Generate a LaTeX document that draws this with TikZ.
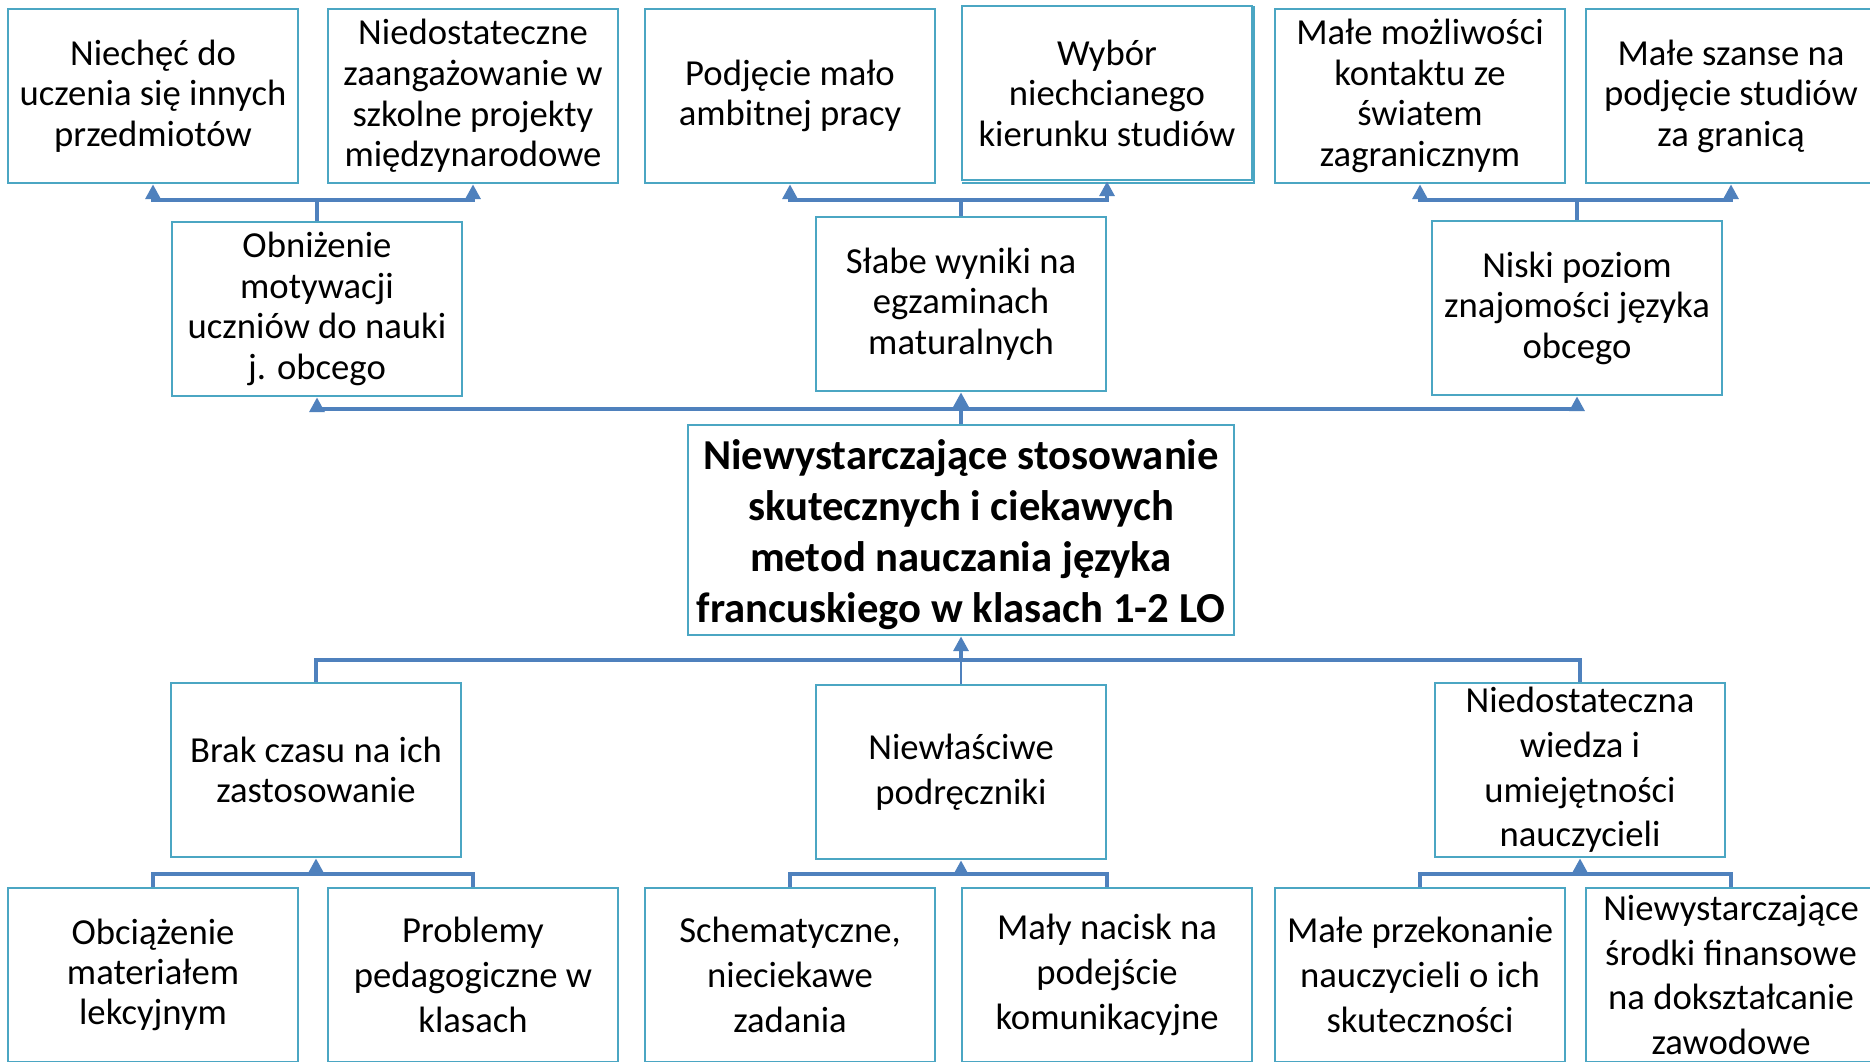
\documentclass[tikz,border=0pt]{standalone}
\usepackage{fontspec}
\setmainfont{Carlito}
\usetikzlibrary{arrows.meta,calc}
\definecolor{boxc}{RGB}{75,166,195}
\definecolor{linec}{RGB}{79,129,189}
\begin{document}
\begin{tikzpicture}[x=0.75pt,y=-0.75pt,
  box/.style={draw=boxc, line width=1.5pt, fill=white, minimum width=217.5pt,
    minimum height=131pt, align=center, inner sep=0pt,
    font=\fontsize{27.5}{30.4}\selectfont},
  loose/.style={font=\fontsize{27.5}{33.5}\selectfont},
  tight/.style={font=\fontsize{27.5}{30}\selectfont},
  core/.style={box, minimum width=409.5pt, minimum height=158pt},
  coretext/.style={align=center, inner sep=0pt,
    font=\bfseries\fontsize{32}{38.3}\selectfont},
  conn/.style={draw=linec, line width=3.4pt},
  thinconn/.style={draw=linec, line width=1.5pt},
  tip/.style={-{Triangle[length=11pt,width=11pt]}}
]
\clip (0,0) rectangle (1870,1061);
\fill[white] (0,0) rectangle (1870,1061);

% effects (top row)
\node[box] (t1) at (153,96) {Niechęć do\\uczenia się innych\\przedmiotów};
\node[box] (t2) at (473,96) {Niedostateczne\\zaangażowanie w\\szkolne projekty\\międzynarodowe};
\node[box] (t3) at (790,96) {Podjęcie mało\\ambitnej pracy};
\node[box] (t4) at (1107,93) {Wybór\\niechcianego\\kierunku studiów};
\node[box] (t5) at (1420,96) {Małe możliwości\\kontaktu ze\\światem\\zagranicznym};
\node[box] (t6) at (1731,96) {Małe szanse na\\podjęcie studiów\\za granicą};
\draw[boxc, line width=1.5pt]
  ([xshift=1.1pt,yshift=-1.1pt]t4.south west) -- ([xshift=1.1pt,yshift=-1.1pt]t4.south east)
  -- ([xshift=1.1pt,yshift=-1.1pt]t4.north east);

% direct effects
\node[box] (m1) at (317,309) {Obniżenie\\motywacji\\uczniów do nauki\\j. obcego};
\node[box] (m2) at (961,304) {Słabe wyniki na\\egzaminach\\maturalnych};
\node[box] (m3) at (1577,308) {Niski poziom\\znajomości języka\\obcego};

% core problem: frame and its bold text
\node[core] (c) at (961,530) {};
\node[coretext] (ctxt) at ($(c.center)+(0,5)$) {Niewystarczające stosowanie\\skutecznych i ciekawych\\metod nauczania języka\\francuskiego w klasach 1-2 LO};

% direct causes
\node[box,tight] (b1) at (316,770) {Brak czasu na ich\\zastosowanie};
\node[box,loose] (b2) at (961,772) {Niewłaściwe\\podręczniki};
\node[box,loose] (b3) at (1580,770) {Niedostateczna\\wiedza i\\umiejętności\\nauczycieli};

% root causes (bottom row)
\node[box,tight] (d1) at (153,975) {Obciążenie\\materiałem\\lekcyjnym};
\node[box,loose] (d2) at (473,975) {Problemy\\pedagogiczne w\\klasach};
\node[box,loose] (d3) at (790,975) {Schematyczne,\\nieciekawe\\zadania};
\node[box,loose] (d4) at (1107,975) {Mały nacisk na\\podejście\\komunikacyjne};
\node[box,loose] (d5) at (1420,975) {Małe przekonanie\\nauczycieli o ich\\skuteczności};
\node[box,loose] (d6) at (1731,975) {Niewystarczające\\środki finansowe\\na dokształcanie\\zawodowe};

% upper connectors
\coordinate (j1) at (m1.north |- 0,200);
\coordinate (j2) at (m2.north |- 0,200);
\coordinate (j3) at (m3.north |- 0,200);
\draw[conn,tip] (m1.north) -- (j1) -| (t1.south);
\draw[conn,tip] (j1) -| (t2.south);
\draw[conn,tip] (m2.north) -- (j2) -| (t3.south);
\draw[conn,tip] (j2) -| (t4.south);
\draw[conn,tip] (m3.north) -- (j3) -| (t5.south);
\draw[conn,tip] (j3) -| (t6.south);

\coordinate (jt) at (c.north |- 0,409);
\draw[conn,tip] (jt) -| (m1.south);
\draw[conn,tip] (jt) -| (m3.south);
\draw[conn,tip] (c.north) -- (m2.south);

% lower connectors
\coordinate (jb) at (c.south |- 0,660);
\draw[conn] (b1.north) |- (jb) -| (b3.north);
\draw[thinconn] (b2.north) -- (jb);
\draw[conn,tip] (jb) -- (c.south);

\coordinate (k1) at (b1.south |- 0,874);
\coordinate (k2) at (b2.south |- 0,874);
\coordinate (k3) at (b3.south |- 0,874);
\draw[conn] (d1.north) |- (k1) -| (d2.north);
\draw[conn,tip] (k1) -- (b1.south);
\draw[conn] (d3.north) |- (k2) -| (d4.north);
\draw[conn,tip] (k2) -- (b2.south);
\draw[conn] (d5.north) |- (k3) -| (d6.north);
\draw[conn,tip] (k3) -- (b3.south);
\end{tikzpicture}
\end{document}
